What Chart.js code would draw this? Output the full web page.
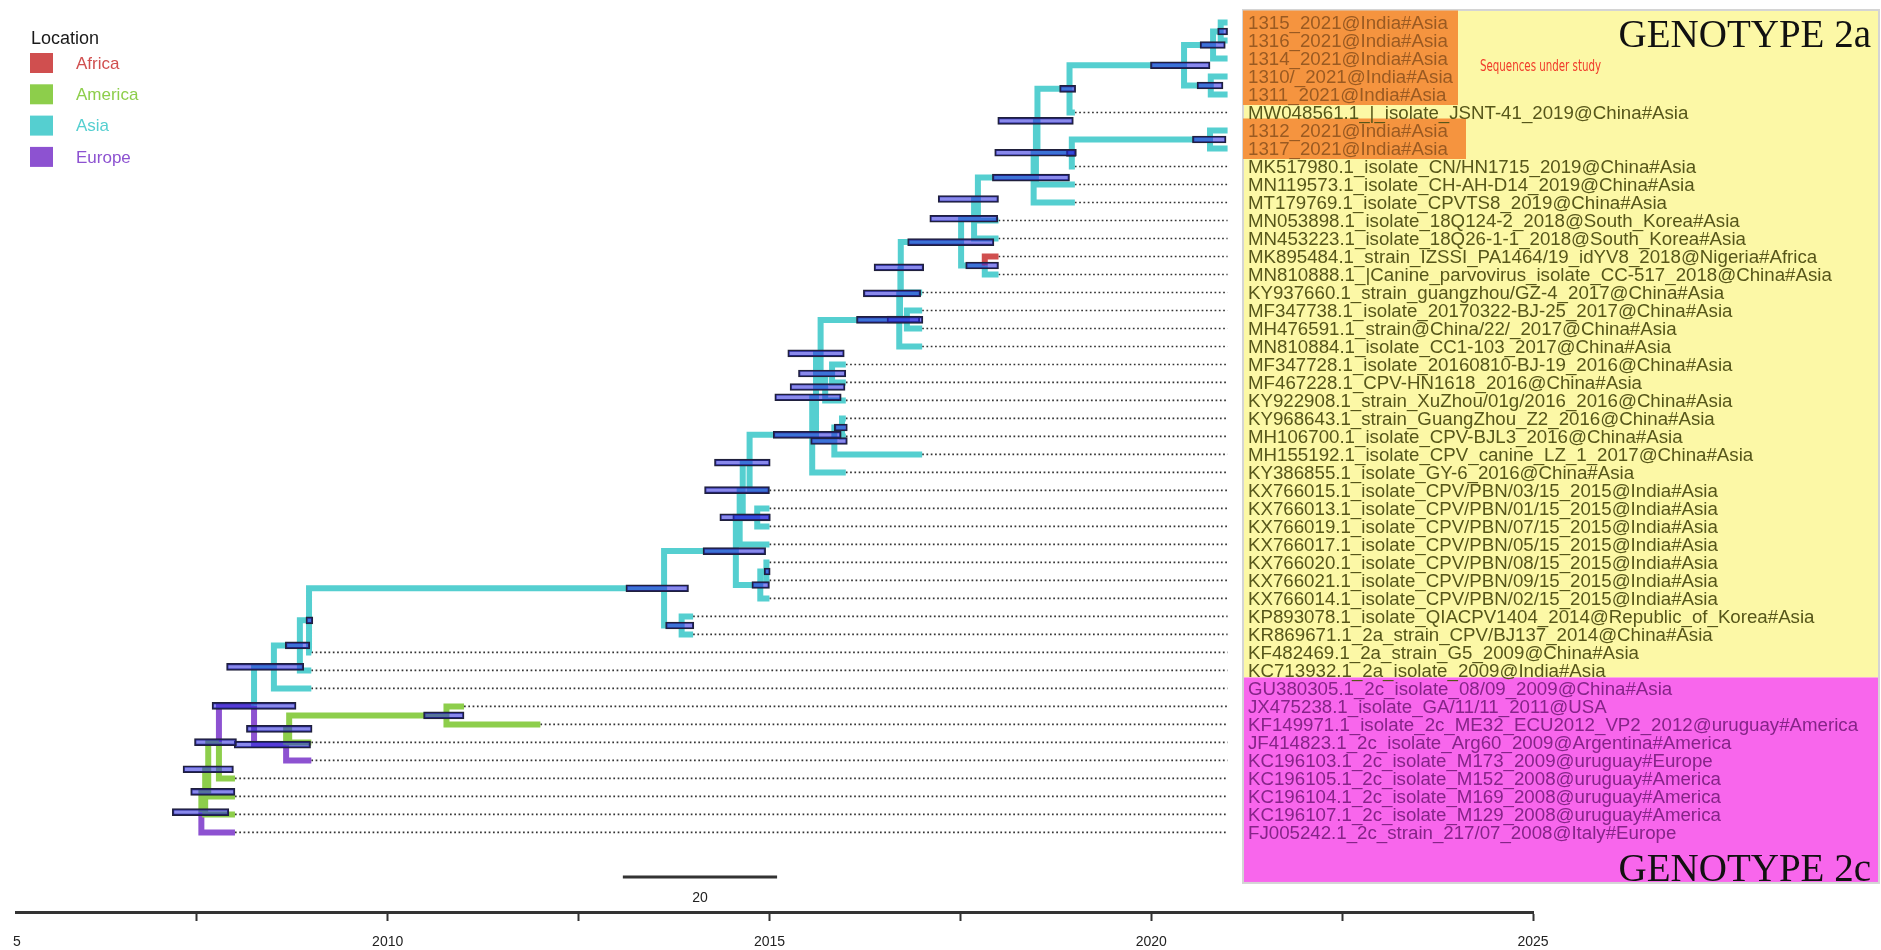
<!DOCTYPE html>
<html>
<head>
<meta charset="utf-8">
<script src="https://cdn.jsdelivr.net/npm/chart.js@4.4.1/dist/chart.umd.min.js"></script>
<style>
html, body { margin: 0; padding: 0; background: #fff; overflow: hidden; }
canvas { display: block; }
</style>
</head>
<body>
<canvas id="arvore" width="1881" height="950"></canvas>
<script>

// tips (top to bottom)
const tipLabels = [
    '1315_2021@India#Asia', '1316_2021@India#Asia', '1314_2021@India#Asia', '1310/_2021@India#Asia', '1311_2021@India#Asia',
    'MW048561.1_|_isolate_JSNT-41_2019@China#Asia',
    '1312_2021@India#Asia', '1317_2021@India#Asia',
    'MK517980.1_isolate_CN/HN1715_2019@China#Asia',
    'MN119573.1_isolate_CH-AH-D14_2019@China#Asia',
    'MT179769.1_isolate_CPVTS8_2019@China#Asia',
    'MN053898.1_isolate_18Q124-2_2018@South_Korea#Asia',
    'MN453223.1_isolate_18Q26-1-1_2018@South_Korea#Asia',
    'MK895484.1_strain_IZSSI_PA1464/19_idYV8_2018@Nigeria#Africa',
    'MN810888.1_|Canine_parvovirus_isolate_CC-517_2018@China#Asia',
    'KY937660.1_strain_guangzhou/GZ-4_2017@China#Asia',
    'MF347738.1_isolate_20170322-BJ-25_2017@China#Asia',
    'MH476591.1_strain@China/22/_2017@China#Asia',
    'MN810884.1_isolate_CC1-103_2017@China#Asia',
    'MF347728.1_isolate_20160810-BJ-19_2016@China#Asia',
    'MF467228.1_CPV-HN1618_2016@China#Asia',
    'KY922908.1_strain_XuZhou/01g/2016_2016@China#Asia',
    'KY968643.1_strain_GuangZhou_Z2_2016@China#Asia',
    'MH106700.1_isolate_CPV-BJL3_2016@China#Asia',
    'MH155192.1_isolate_CPV_canine_LZ_1_2017@China#Asia',
    'KY386855.1_isolate_GY-6_2016@China#Asia',
    'KX766015.1_isolate_CPV/PBN/03/15_2015@India#Asia',
    'KX766013.1_isolate_CPV/PBN/01/15_2015@India#Asia',
    'KX766019.1_isolate_CPV/PBN/07/15_2015@India#Asia',
    'KX766017.1_isolate_CPV/PBN/05/15_2015@India#Asia',
    'KX766020.1_isolate_CPV/PBN/08/15_2015@India#Asia',
    'KX766021.1_isolate_CPV/PBN/09/15_2015@India#Asia',
    'KX766014.1_isolate_CPV/PBN/02/15_2015@India#Asia',
    'KP893078.1_isolate_QIACPV1404_2014@Republic_of_Korea#Asia',
    'KR869671.1_2a_strain_CPV/BJ137_2014@China#Asia',
    'KF482469.1_2a_strain_G5_2009@China#Asia',
    'KC713932.1_2a_isolate_2009@India#Asia',
    'GU380305.1_2c_isolate_08/09_2009@China#Asia',
    'JX475238.1_isolate_GA/11/11_2011@USA',
    'KF149971.1_isolate_2c_ME32_ECU2012_VP2_2012@uruguay#America',
    'JF414823.1_2c_isolate_Arg60_2009@Argentina#America',
    'KC196103.1_2c_isolate_M173_2009@uruguay#Europe',
    'KC196105.1_2c_isolate_M152_2008@uruguay#America',
    'KC196104.1_2c_isolate_M169_2008@uruguay#America',
    'KC196107.1_2c_isolate_M129_2008@uruguay#America',
    'FJ005242.1_2c_strain_217/07_2008@Italy#Europe'
]
const tipYears = [
    2021, 2021, 2021, 2021, 2021, 2019, 2021, 2021, 2019, 2019, 2019,
    2018, 2018, 2018, 2018, 2017, 2017, 2017, 2017,
    2016, 2016, 2016, 2016, 2016, 2017, 2016,
    2015, 2015, 2015, 2015, 2015, 2015, 2015, 2014, 2014,
    2009, 2009, 2009, 2011, 2012, 2009, 2009, 2008, 2008, 2008, 2008
]
const tipPlace = [
    'Asia', 'Asia', 'Asia', 'Asia', 'Asia', 'Asia', 'Asia', 'Asia', 'Asia', 'Asia', 'Asia',
    'Asia', 'Asia', 'Africa', 'Asia', 'Asia', 'Asia', 'Asia', 'Asia',
    'Asia', 'Asia', 'Asia', 'Asia', 'Asia', 'Asia', 'Asia',
    'Asia', 'Asia', 'Asia', 'Asia', 'Asia', 'Asia', 'Asia', 'Asia', 'Asia',
    'Asia', 'Asia', 'Asia', 'America', 'America', 'America', 'Europe', 'America', 'America', 'America', 'Europe'
]

// internal nodes, children first
const nodeIds = ['A', 'B', 'C', 'D', 'E', 'H', 'G', 'F1', 'F2', 'F3', 'I', 'I2', 'J', 'K', 'P1', 'L', 'P2', 'P3',
    'R', 'S', 'X1', 'U', 'W', 'X2', 'X3', 'V', 'Y', 'G2a', 'G2b', 'Z', 'Z2', 'G2', 'AA', 'AB', 'AC', 'AD', 'AE',
    'AG', 'AH', 'AI', 'AF', 'AJ', 'AK', 'AL', 'RAIZ']
const nodeKids = [[0, 1], ['A', 2], [3, 4], ['B', 'C'], ['D', 5], [6, 7], ['H', 8], ['E', 'G'], ['F1', 9], ['F2', 10],
    ['F3', 11], ['I', 12], [13, 14], ['I2', 'J'], ['K', 15], [16, 17], ['P1', 'L'], ['P2', 18],
    [19, 20], ['R', 21], ['P3', 'S'], [22, 23], ['U', 24], ['X1', 'W'], ['X2', 25], ['X3', 26], [27, 28],
    ['V', 'Y'], ['G2a', 29], [30, 31], ['Z', 32], ['G2b', 'Z2'], [33, 34], ['G2', 'AA'], ['AB', 35], ['AC', 36], ['AD', 37],
    [38, 39], ['AG', 40], ['AH', 41], ['AE', 'AI'], ['AF', 42], ['AJ', 43], ['AK', 44], ['AL', 45]]
const nodeYears = [2020.91, 2020.81, 2020.78, 2020.43, 2018.93, 2020.77, 2018.96, 2018.51, 2018.49, 2018.46,
    2017.73, 2017.68, 2017.82, 2017.51, 2016.72, 2016.80, 2016.71, 2016.70,
    2015.82, 2015.73, 2015.67, 2015.95, 2015.85, 2015.61, 2015.56, 2014.74, 2014.84,
    2014.65, 2014.61, 2014.96, 2014.88, 2014.56, 2013.85, 2013.62, 2008.97, 2008.85, 2008.51,
    2010.77, 2008.71, 2008.67, 2008.25, 2007.79, 2007.65, 2007.61, 2007.56]
const nodePlace = ['Asia', 'Asia', 'Asia', 'Asia', 'Asia', 'Asia', 'Asia', 'Asia', 'Asia', 'Asia',
    'Asia', 'Asia', 'Asia', 'Asia', 'Asia', 'Asia', 'Asia', 'Asia',
    'Asia', 'Asia', 'Asia', 'Asia', 'Asia', 'Asia', 'Asia', 'Asia', 'Asia',
    'Asia', 'Asia', 'Asia', 'Asia', 'Asia', 'Asia', 'Asia', 'Asia', 'Asia', 'Asia',
    'America', 'America', 'Europe', 'Europe', 'America', 'America', 'America', 'Europe']
// 95% HPD of node heights
const hpdLow = [2020.87, 2020.64, 2020.60, 2019.99, 2018.80, 2020.54, 2018.89, 2017.99, 2017.95, 2017.92,
    2017.21, 2017.10, 2017.57, 2016.81, 2016.37, 2016.54, 2016.23, 2016.14,
    2015.38, 2015.27, 2015.24, 2015.85, 2015.54, 2015.07, 2015.05, 2014.28, 2014.52,
    2014.15, 2014.35, 2014.93, 2014.77, 2014.13, 2013.64, 2013.12, 2008.93, 2008.66, 2007.89,
    2010.47, 2008.15, 2007.99, 2007.70, 2007.47, 2007.32, 2007.42, 2007.18]
const hpdHigh = [2021.0, 2020.97, 2020.94, 2020.77, 2019.01, 2020.98, 2019.01, 2018.98, 2019.02, 2018.93,
    2018.00, 2017.99, 2018.00, 2017.94, 2017.02, 2016.97, 2016.98, 2017.01,
    2016.0, 2015.99, 2015.98, 2016.02, 2016.02, 2015.94, 2015.94, 2015.01, 2015.01,
    2015.0, 2015.01, 2015.01, 2015.0, 2014.95, 2014.01, 2013.94, 2009.02, 2008.98, 2008.90,
    2011.0, 2009.01, 2008.99, 2008.80, 2008.02, 2007.98, 2008.00, 2007.92]

const places = ['Africa', 'America', 'Asia', 'Europe']
const placeColors = ['#d04f4f', '#8dce4b', '#55cfd0', '#8d52d1']

const xMin = 2005.144
const xMax = 2025
const xTickValues = [xMin, 2007.5, 2010, 2012.5, 2015, 2017.5, 2020, 2022.5, 2025]
const xTickLabels = ['5', '', '2010', '', '2015', '', '2020', '', '2025']
const scaleBar = [2013.08, 2015.10]
const scaleBarLabel = '20'
const lastYear = 2021

const orangeRows = [[0, 4], [6, 7]]
const genotypes = ['GENOTYPE 2a', 'GENOTYPE 2c']


// layout do arvore
var pos = {}
tipYears.forEach((ano, i) => {
    pos[i] = { x: ano, y: i, place: tipPlace[i] }
})
nodeIds.forEach((id, k) => {
    var a = pos[nodeKids[k][0]]
    var b = pos[nodeKids[k][1]]
    pos[id] = { x: nodeYears[k], y: (a.y + b.y) / 2, place: nodePlace[k] }
})

var ramos = {}
places.forEach(p => ramos[p] = [])
nodeIds.forEach((id, k) => {
    var pai = pos[id]
    nodeKids[k].forEach(c => {
        var filho = pos[c]
        ramos[filho.place].push(
            { x: pai.x, y: pai.y },
            { x: pai.x, y: filho.y },
            { x: filho.x, y: filho.y },
            { x: filho.x, y: null })
    })
})

var pontilhado = []
tipYears.forEach((ano, i) => {
    if (ano < lastYear) {
        pontilhado.push({ x: ano, y: i }, { x: lastYear, y: i }, { x: lastYear, y: null })
    }
})

var barras = nodeIds.map((id, k) => ({ x: [hpdLow[k], hpdHigh[k]], y: pos[id].y }))

var datasets = []
datasets.push({
    type: 'line', data: pontilhado, borderColor: '#333', borderWidth: 1.7,
    borderDash: [1.7, 2.6], pointRadius: 0, order: 4
})
places.forEach((p, i) => {
    datasets.push({
        type: 'line', label: p, data: ramos[p], borderColor: placeColors[i], borderWidth: 6,
        borderCapStyle: 'butt', borderJoinStyle: 'miter', pointRadius: 0, order: 3
    })
})
datasets.push({
    type: 'bar', indexAxis: 'y', data: barras, barThickness: 7, grouped: false,
    backgroundColor: 'rgba(40, 40, 220, 0.55)', borderColor: '#20203c', borderWidth: 1.5,
    borderSkipped: false, order: 1
})
var yBar = 47.47
datasets.push({
    type: 'line', data: [{ x: scaleBar[0], y: yBar }, { x: scaleBar[1], y: yBar }],
    borderColor: '#333', borderWidth: 3, borderCapStyle: 'butt', pointRadius: 0, order: 2
})


const extras = {
    id: 'extras',
    beforeDraw(chart) {
        var ctx = chart.ctx
        var y = chart.scales.y
        var left = 1243, right = 1879
        var top = y.getPixelForValue(0) - 12.5
        var meio = y.getPixelForValue(36.5) - 2
        var fim = y.getPixelForValue(45) + 50.5
        ctx.save()
        ctx.fillStyle = '#fcf8a6'
        ctx.fillRect(left, top, right - left, meio - top)
        ctx.fillStyle = '#f866ec'
        ctx.fillRect(left, meio, right - left, fim - meio)
        ctx.strokeStyle = '#d4d4d4'
        ctx.lineWidth = 2
        ctx.strokeRect(left, top, right - left, fim - top)
        ctx.fillStyle = '#f5943f'
        var larg = [215, 223]
        orangeRows.forEach((r, i) => {
            var t = y.getPixelForValue(r[0]) - 12
            var b = y.getPixelForValue(r[1]) + 10.5
            ctx.fillRect(left, t, larg[i], b - t)
        })
        ctx.restore()
    },
    afterDraw(chart) {
        var ctx = chart.ctx
        var x = chart.scales.x
        var y = chart.scales.y
        ctx.save()
        ctx.textBaseline = 'middle'
        ctx.textAlign = 'left'
        ctx.font = '18.7px "Liberation Sans", Arial, sans-serif'
        tipLabels.forEach((txt, i) => {
            var laranja = orangeRows.some(r => i >= r[0] && i <= r[1])
            ctx.fillStyle = laranja ? '#9a5a22' : (i <= 36 ? '#56561a' : '#852488')
            ctx.fillText(txt, 1248, y.getPixelForValue(i) + 1)
        })

        ctx.fillStyle = '#111'
        ctx.textAlign = 'right'
        ctx.textBaseline = 'alphabetic'
        ctx.font = '39px "Liberation Serif", "Times New Roman", serif'
        ctx.fillText(genotypes[0], 1871, 47)
        ctx.fillText(genotypes[1], 1871, 881)

        // texto estreito
        ctx.textAlign = 'left'
        ctx.textBaseline = 'middle'
        ctx.fillStyle = '#f03a2a'
        ctx.font = '15px "Liberation Sans Narrow", "DejaVu Sans Condensed", sans-serif'
        var frase = 'Sequences under study'
        var k = 121 / ctx.measureText(frase).width
        ctx.save()
        ctx.translate(1480, 67)
        ctx.scale(k, 1)
        ctx.fillText(frase, 0, 0)
        ctx.restore()

        // escala
        ctx.fillStyle = '#222'
        ctx.textAlign = 'center'
        ctx.font = '14px "Liberation Sans", Arial, sans-serif'
        ctx.fillText(scaleBarLabel, x.getPixelForValue((scaleBar[0] + scaleBar[1]) / 2), y.getPixelForValue(48.64))

        // legenda
        ctx.textAlign = 'left'
        ctx.fillStyle = '#1a1a1a'
        ctx.font = '18px "Liberation Sans", Arial, sans-serif'
        ctx.fillText('Location', 31, 39)
        ctx.font = '17px "Liberation Sans", Arial, sans-serif'
        places.forEach((p, i) => {
            var cy = 63 + i * 31.3
            ctx.fillStyle = placeColors[i]
            ctx.fillRect(30, cy - 10, 23, 20)
            ctx.fillText(p, 76, cy + 1)
        })
        ctx.restore()
    }
}

var grafico = new Chart(document.getElementById('arvore'), {
    type: 'line',
    data: { datasets: datasets },
    options: {
        responsive: false,
        animation: false,
        events: [],
        layout: { padding: { left: 12, right: 348, top: 0, bottom: 0 } },
        plugins: { legend: { display: false }, tooltip: { enabled: false } },
        scales: {
            x: {
                type: 'linear', min: xMin, max: xMax, offset: false,
                afterBuildTicks: s => { s.ticks = xTickValues.map(v => ({ value: v })) },
                afterFit: s => { s.height = 38 },
                ticks: {
                    autoSkip: false, maxRotation: 0, padding: 13, color: '#222',
                    font: { size: 14, family: '"Liberation Sans", Arial, sans-serif' },
                    callback: (v, i) => xTickLabels[i]
                },
                grid: {
                    offset: false, drawOnChartArea: false, tickLength: 9, tickWidth: 2,
                    tickColor: c => c.index === 0 ? 'rgba(0,0,0,0)' : '#333'
                },
                border: { display: true, color: '#333', width: 3 }
            },
            y: { type: 'linear', reverse: true, min: -1.25, max: 49.42, offset: false, grid: { offset: false }, display: false }
        }
    },
    plugins: [extras]
});
</script>
